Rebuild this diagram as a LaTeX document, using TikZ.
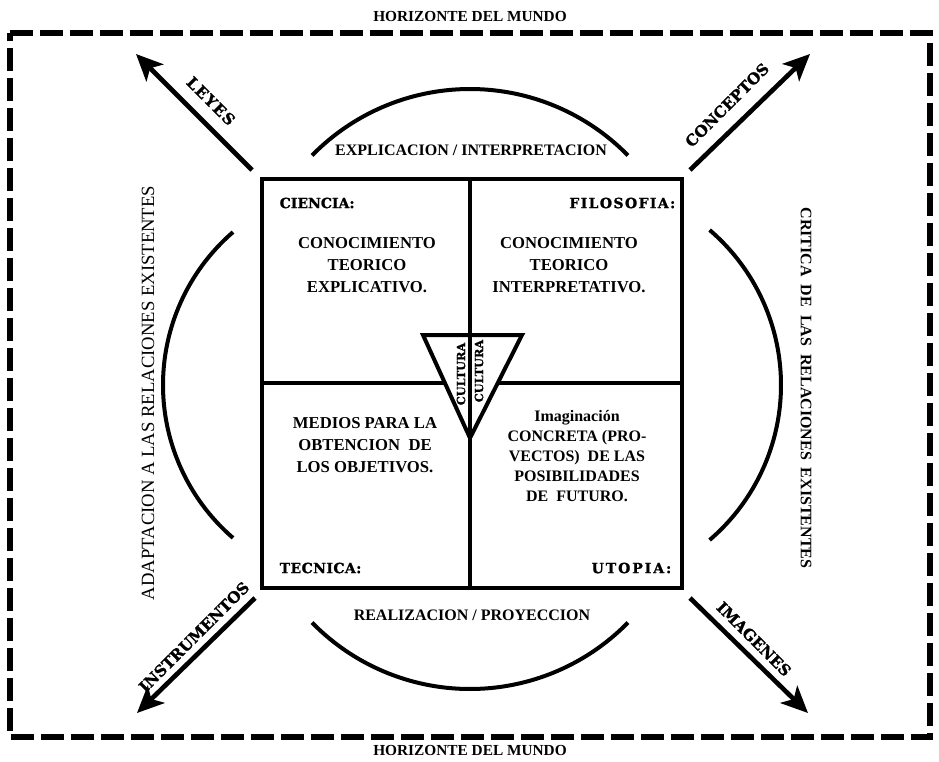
\documentclass[tikz,border=0pt]{standalone}
\usepackage{fontspec}
\setmainfont{Liberation Serif}
\newfontfamily\heavyfont{DejaVu Serif Bold}[FakeBold=1.2]
\usetikzlibrary{arrows.meta}
\begin{document}
\begin{tikzpicture}[x=0.75pt,y=-0.75pt,
  boxline/.style={line width=3pt},
  divider/.style={line width=2.4pt},
  arcline/.style={line width=3pt},
  bigarrow/.style={line width=3.5pt,-{Stealth[length=20pt,width=18pt,inset=5pt]}},
  horizon/.style={font=\bfseries\fontsize{11.5}{13}\selectfont},
  quadtext/.style={align=center,font=\bfseries\fontsize{12.5}{16.5}\selectfont},
  quadlabel/.style={font=\heavyfont\bfseries\fontsize{10.5}{12}\selectfont},
  arrowlabel/.style={font=\heavyfont\bfseries\fontsize{11.5}{13}\selectfont},
  arclabel/.style={font=\bfseries\fontsize{12}{13}\selectfont},
  relation/.style={font=\fontsize{14}{16}\selectfont},
  culture/.style={font=\heavyfont\bfseries\fontsize{8.5}{10}\selectfont, rotate=90, inner sep=0pt}
]
\useasboundingbox (0,0) rectangle (939,761);

% world horizon
\draw[line width=4.5pt, dash pattern=on 17pt off 5.5pt] (10,33) -- (930,33) -- (930,737) -- (10,737) -- cycle;
\node[horizon] (htop) at (470,16) {HORIZONTE DEL MUNDO};
\node[horizon] (hbot) at (470,750) {HORIZONTE DEL MUNDO};

% arcs
\draw[arcline] (470,310) ++(-135.6:221) arc[start angle=-135.6, end angle=-44.4, radius=221];
\draw[arcline] (470,468) ++(135.6:221) arc[start angle=135.6, end angle=44.4, radius=221];
\draw[arcline] (365,385) ++(130.8:202) arc[start angle=130.8, end angle=229.2, radius=202];
\draw[arcline] (577,385) ++(-49.45:204) arc[start angle=-49.45, end angle=49.45, radius=204];

\node[arclabel] (expl) at (471,150) {EXPLICACION / INTERPRETACION};
\node[arclabel] (real) at (472,615) {REALIZACION / PROYECCION};
\node[relation, rotate=90] (adapt) at (148,393) {ADAPTACION A LAS RELACIONES EXISTENTES};
\node[relation, font=\bfseries\fontsize{12}{14}\selectfont, rotate=-90] (crit) at (806,388) {CRITICA \ DE \ LAS \ RELACIONES \ EXISTENTES};

% square
\draw[divider] (262,383) -- (682,383);
\draw[boxline, fill=white] (423,335) -- (522,335) -- (470,438) -- cycle;
\draw[divider] (470,179) -- (470,588);
\draw[boxline] (262,179) rectangle (682,588);

\node[culture] (cult1) at (461,374) {CULTURA};
\node[culture] (cult2) at (479,371) {CULTURA};

\node[quadlabel, anchor=west] (cien) at (275,203) {CIENCIA:};
\node[quadlabel, anchor=east] (filo) at (680,203) {\addfontfeature{LetterSpace=10}FILOSOFIA:};
\node[quadlabel, anchor=west] (tecn) at (275,568) {\addfontfeature{LetterSpace=3}TECNICA:};
\node[quadlabel, anchor=east] (utop) at (676,568) {\addfontfeature{LetterSpace=14}UTOPIA:};

\node[quadtext] (cientxt) at (367,265) {CONOCIMIENTO\\TEORICO\\EXPLICATIVO.};
\node[quadtext] (filotxt) at (569,265) {CONOCIMIENTO\\TEORICO\\INTERPRETATIVO.};
\node[quadtext] (tecntxt) at (365,445) {MEDIOS PARA LA\\OBTENCION \ DE\\LOS OBJETIVOS.};
\node[quadtext, font=\bfseries\fontsize{12}{15}\selectfont] (utoptxt) at (577,456) {Imaginación\\CONCRETA (PRO-\\VECTOS) \ DE LAS\\POSIBILIDADES\\DE \ FUTURO.};

% arrows
\coordinate (leyS) at (252,170);
\coordinate (leyE) at (136,54);
\coordinate (conS) at (690,170);
\coordinate (conE) at (810,54);
\coordinate (insS) at (255,598);
\coordinate (insE) at (137,713);
\coordinate (imaS) at (690,598);
\coordinate (imaE) at (808,713);
\draw[bigarrow] (leyS) -- (leyE);
\draw[bigarrow] (conS) -- (conE);
\draw[bigarrow] (insS) -- (insE);
\draw[bigarrow] (imaS) -- (imaE);

\node[arrowlabel, rotate=-45] (leyes) at (211,101) {\addfontfeature{LetterSpace=8}LEYES};
\node[arrowlabel, rotate=45] (conceptos) at (727,105) {CONCEPTOS};
\node[arrowlabel, rotate=45] (instr) at (194,637) {INSTRUMENTOS};
\node[arrowlabel, rotate=-45] (imag) at (754,639) {IMAGENES};
\end{tikzpicture}
\end{document}
